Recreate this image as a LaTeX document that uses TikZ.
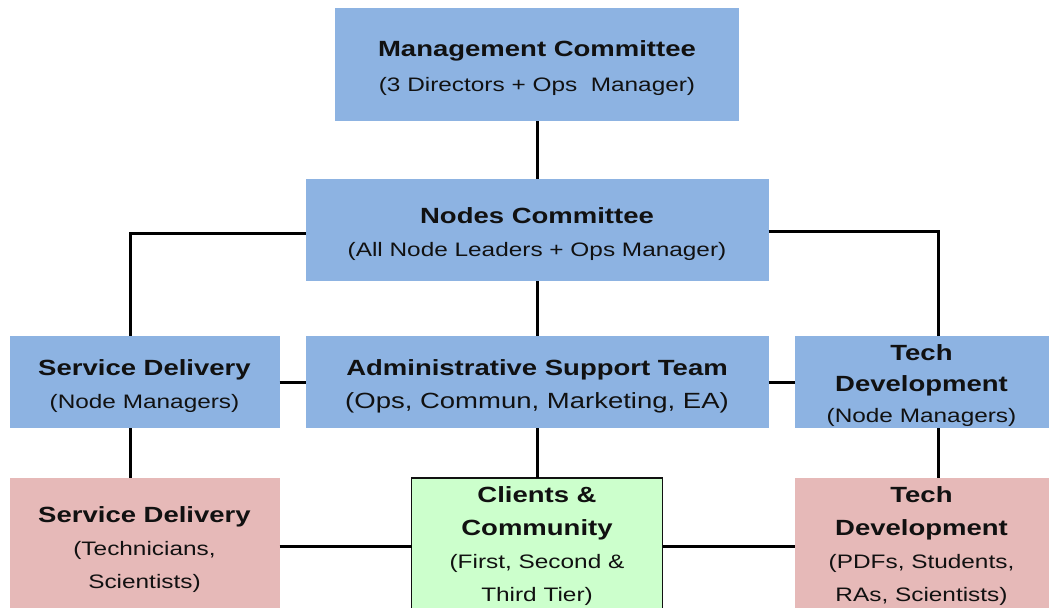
\documentclass[tikz,border=0pt]{standalone}
\usepackage{fontspec}
\setmainfont[FakeStretch=1.25]{Liberation Sans}
\usepackage{tikz}
\usetikzlibrary{positioning}
\usepackage{xcolor}
\definecolor{mgrblue}{HTML}{8DB3E2}
\definecolor{staffpink}{HTML}{E6B9B8}
\definecolor{clientgreen}{HTML}{CCFFCC}
\definecolor{inkgray}{HTML}{111111}
\newcommand{\hd}[1]{{\fontsize{22}{33}\selectfont\bfseries #1}}
\newcommand{\lift}{\rule{0pt}{24pt}}

\begin{document}
\begin{tikzpicture}[
  x=1pt, y=-1pt,
  box/.style={inner sep=0pt, outer sep=0pt, align=center, text=inkgray,
    font=\fontsize{19.5}{33}\selectfont},
  mgr/.style={box, fill=mgrblue},
  staff/.style={box, fill=staffpink, minimum height=136pt},
  client/.style={box, fill=clientgreen, draw=inkgray, line width=1.2pt, minimum height=136pt},
  link/.style={draw, line width=3pt, black}
]
\useasboundingbox (0,0) rectangle (1053,608);
\clip (0,0) rectangle (1053,608);

% top two rows
\node[mgr, minimum width=404pt, minimum height=113pt, font=\fontsize{19.5}{35}\selectfont] (mgmt) at (537,64.5)
  {\lift\hd{Management Committee}\\ (3 Directors + Ops\ \ Manager)};
\node[mgr, minimum width=463pt, minimum height=102pt, below=58pt of mgmt] (nodes)
  {\lift\hd{Nodes Committee}\\ (All Node Leaders + Ops Manager)};

% manager row
\node[mgr, minimum width=463pt, minimum height=92pt, below=55pt of nodes] (admin)
  {\lift\hd{Administrative Support Team}\\ {\fontsize{22}{33}\selectfont (Ops, Commun, Marketing, EA)}};
\node[mgr, minimum width=270pt, minimum height=92pt, left=26pt of admin] (sdmgr)
  {\lift\hd{Service Delivery}\\ (Node Managers)};
\node[mgr, minimum width=254pt, minimum height=92pt, right=26pt of admin, font=\fontsize{19.5}{31}\selectfont] (tdmgr)
  {\lift\hd{Tech}\\ \hd{Development}\\ (Node Managers)};

% staff row
\node[client, minimum width=251pt, below=50pt of admin] (clients)
  {\hd{Clients \&}\\ \hd{Community}\\ (First, Second \&\\ Third Tier)};
\node[staff, minimum width=270pt, below=50pt of sdmgr] (sdstaff)
  {\lift\hd{Service Delivery}\\ (Technicians,\\ Scientists)};
\node[staff, minimum width=254pt, below=50pt of tdmgr] (tdstaff)
  {\hd{Tech}\\ \hd{Development}\\ (PDFs, Students,\\ RAs, Scientists)};

% connectors
\draw[link] (mgmt) -- (nodes);
\draw[link] (nodes) -- (admin);
\draw[link] (admin) -- (clients);
\draw[link] ([yshift=-3pt]nodes.west) -| ([xshift=-14pt]sdmgr.north);
\draw[link] ([yshift=-1pt]nodes.east) -| ([xshift=17pt]tdmgr.north);
\draw[link] (sdmgr) -- (admin);
\draw[link] (admin) -- (tdmgr);
\draw[link] ([xshift=-14pt]sdmgr.south) -- ([xshift=-14pt]sdstaff.north);
\draw[link] ([xshift=17pt]tdmgr.south) -- ([xshift=17pt]tdstaff.north);
\draw[link] (sdstaff) -- (clients);
\draw[link] (clients) -- (tdstaff);
\end{tikzpicture}
\end{document}
